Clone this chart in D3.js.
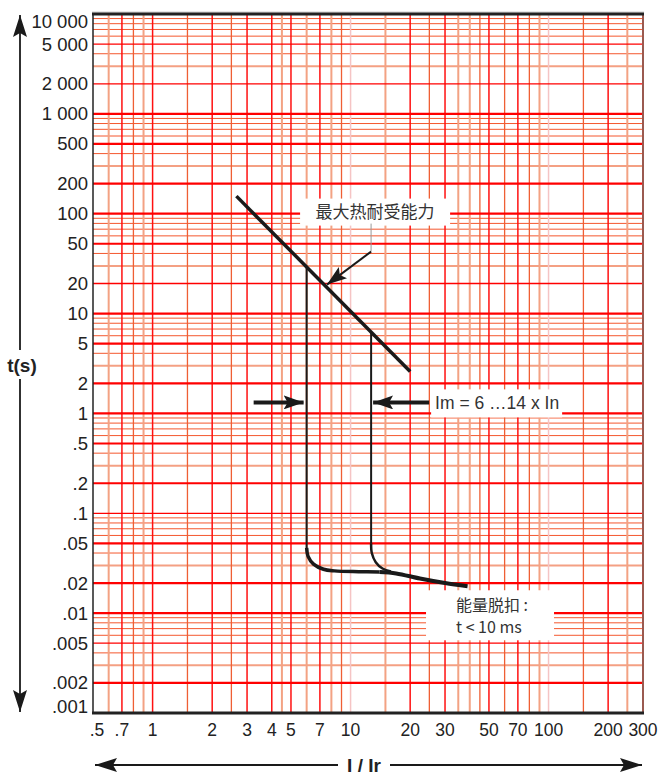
<!DOCTYPE html>
<html>
<head>
<meta charset="utf-8">
<script src="https://cdn.jsdelivr.net/npm/d3@7"></script>
<style>
body { margin: 0; background: #fff; }
text { font-family: "Liberation Sans", Arial, sans-serif; fill: #222; }
.cjk { font-family: "Noto Sans CJK SC", sans-serif; fill: #333; }
</style>
</head>
<body>
<svg id="chart" width="659" height="773"></svg>
<script>
// axis ticks
const xTicks = [0.5, 0.7, 1, 2, 3, 4, 5, 7, 10, 20, 30, 50, 70, 100, 200, 300];
const xTickLabels = [".5", ".7", "1", "2", "3", "4", "5", "7", "10", "20", "30", "50", "70", "100", "200", "300"];
const yTicks = [10000, 5000, 2000, 1000, 500, 200, 100, 50, 20, 10, 5, 2, 1, 0.5, 0.2, 0.1, 0.05, 0.02, 0.01, 0.005, 0.002, 0.001];
const yTickLabels = ["10 000", "5 000", "2 000", "1 000", "500", "200", "100", "50", "20", "10", "5", "2", "1",
                     ".5", ".2", ".1", ".05", ".02", ".01", ".005", ".002", ".001"];

// grid lines of the log paper
const xGridRed = [0.7, 1, 2, 3, 4, 5, 7, 20, 30, 50, 70, 200];
const xGridOrange = [0.8, 1.5, 2.5, 9, 25, 45, 60, 80, 150];
const xGridSalmon = [0.6, 0.9, 4.5, 6, 8, 15, 35, 40, 90, 250];
const xGridPink = [10, 100];
const yDecades = [0.001, 0.01, 0.1, 1, 10, 100, 1000];
const yGridRed = [1, 2, 5];
const yGridSalmon = [3];
const yGridOrange = [4, 6, 7, 8, 9];
const yGridThin = [5000, 2000, 20, 0.1, 0.005];

// curves, [I/Ir, t(s)]
const thermalLine = [[2.65, 150], [20, 2.63]];
const tripLow = [[6, 29], [6, 0.045]];
const tripHigh = [[12.7, 6.5], [12.7, 0.05]];
const kneeLow = [[6, 0.045], [6.1, 0.037], [6.5, 0.031], [7.3, 0.0275], [8.3, 0.0265], [11, 0.026], [14, 0.0258]];
const kneeHigh = [[12.7, 0.05], [12.8, 0.04], [13.4, 0.0324], [14.5, 0.028], [16, 0.0262]];
const tail = [[14, 0.0258], [17, 0.025], [22.4, 0.0222], [30, 0.02], [39, 0.0186]];

// annotations
const thermalNote = "最大热耐受能力";
const imNote = "Im = 6 …14 x In";
const energyNote = ["能量脱扣 :", "t < 10 ms"];

const svg = d3.select("#chart");
const x = d3.scaleLog().domain([0.5, 300]).range([93, 643]);
const y = d3.scaleLog().domain([0.001, 10000]).range([713, 14]);

const defs = svg.append("defs");
defs.append("marker").attr("id", "axisArrow")
    .attr("viewBox", "0 0 22 14").attr("refX", 22).attr("refY", 7)
    .attr("markerWidth", 22).attr("markerHeight", 14)
    .attr("markerUnits", "userSpaceOnUse").attr("orient", "auto-start-reverse")
    .append("path").attr("d", "M0,0 L22,7 L0,14 L4,7 Z").attr("fill", "#1a1a1a");
defs.append("marker").attr("id", "noteArrow")
    .attr("viewBox", "0 0 20 14").attr("refX", 20).attr("refY", 7)
    .attr("markerWidth", 20).attr("markerHeight", 14)
    .attr("markerUnits", "userSpaceOnUse").attr("orient", "auto")
    .append("path").attr("d", "M0,0 L20,7 L0,14 L4,7 Z").attr("fill", "#1a1a1a");

// grid
let grid = svg.append("g");
function vLines(vals, color, w) {
    grid.selectAll(null).data(vals).enter().append("line")
        .attr("x1", d => x(d)).attr("x2", d => x(d))
        .attr("y1", y(10000)).attr("y2", y(0.001))
        .attr("stroke", color).attr("stroke-width", w);
}
function hLines(mults, color, w) {
    let vals = [];
    yDecades.forEach(dec => mults.forEach(m => vals.push(+(dec * m).toPrecision(3))));
    grid.selectAll(null).data(vals).enter().append("line")
        .attr("x1", x(0.5)).attr("x2", x(300))
        .attr("y1", d => y(d)).attr("y2", d => y(d))
        .attr("stroke", color)
        .attr("stroke-width", d => (w > 1.5 && yGridThin.indexOf(d) >= 0) ? 1.3 : w);
}
hLines(yGridOrange, "#f4572e", 1);
hLines(yGridSalmon, "#f4a083", 2);
vLines(xGridPink, "#f5c4c4", 1.5);
vLines(xGridSalmon, "#f3a283", 2);
vLines(xGridOrange, "#ef5f34", 1.3);
vLines(xGridRed, "#ff1010", 1.5);
hLines(yGridRed, "#ff0000", 2.2);

// frame
svg.append("line").attr("x1", x(0.5)).attr("x2", x(0.5)).attr("y1", y(10000)).attr("y2", y(0.001))
    .attr("stroke", "#222").attr("stroke-width", 1.5);
svg.append("line").attr("x1", x(300)).attr("x2", x(300)).attr("y1", y(10000)).attr("y2", y(0.001))
    .attr("stroke", "#9a5a50").attr("stroke-width", 2);
svg.append("line").attr("x1", x(0.5) - 1).attr("x2", x(300) + 1).attr("y1", y(10000) - 2).attr("y2", y(10000) - 2)
    .attr("stroke", "#ccc").attr("stroke-width", 1);
[10000, 0.001].forEach(v => {
    svg.append("line").attr("x1", x(0.5) - 1).attr("x2", x(300) + 1).attr("y1", y(v)).attr("y2", y(v))
        .attr("stroke", "#222").attr("stroke-width", 3);
});

// white label boxes
let tn = [13.3, 105];
svg.append("rect").attr("x", x(tn[0]) - 75).attr("y", y(tn[1]) - 13).attr("width", 150).attr("height", 27).attr("fill", "#fff");
let imY = y(1.29);
svg.append("rect").attr("x", x(12.7) + 60).attr("y", imY - 13).attr("width", 131).attr("height", 28).attr("fill", "#fff");
let en = [0.0102, 30];
svg.append("rect").attr("x", x(en[1]) - 19).attr("y", y(en[0]) - 22).attr("width", 128).attr("height", 50).attr("fill", "#fff");

// curves
let line = d3.line().x(d => x(d[0])).y(d => y(d[1]));
let smooth = d3.line().x(d => x(d[0])).y(d => y(d[1])).curve(d3.curveCatmullRom.alpha(0.5));
svg.append("path").attr("d", line(thermalLine)).attr("fill", "none").attr("stroke", "#1a1a1a").attr("stroke-width", 3.5);
svg.append("path").attr("d", line(tripLow)).attr("fill", "none").attr("stroke", "#1a1a1a").attr("stroke-width", 2);
svg.append("path").attr("d", line(tripHigh)).attr("fill", "none").attr("stroke", "#1a1a1a").attr("stroke-width", 2);
svg.append("path").attr("d", smooth(kneeLow)).attr("fill", "none").attr("stroke", "#1a1a1a").attr("stroke-width", 3.5);
svg.append("path").attr("d", smooth(kneeHigh)).attr("fill", "none").attr("stroke", "#1a1a1a").attr("stroke-width", 2.5);
svg.append("path").attr("d", smooth(tail)).attr("fill", "none").attr("stroke", "#1a1a1a").attr("stroke-width", 4);

// thermal annotation
svg.append("text").attr("class", "cjk").attr("x", x(tn[0])).attr("y", y(tn[1])).attr("dy", "0.35em")
    .attr("text-anchor", "middle").style("font-size", "17px").text(thermalNote);
let tip = [7.6, 19.5];
svg.append("line").attr("x1", x(tn[0]) - 4).attr("x2", x(tn[0]) - 4)
    .attr("y1", y(tn[1]) + 12).attr("y2", y(tn[1]) + 40).attr("stroke", "#999").attr("stroke-width", 1);
svg.append("line").attr("x1", x(tn[0]) - 4).attr("y1", y(tn[1]) + 40)
    .attr("x2", x(tip[0])).attr("y2", y(tip[1]))
    .attr("stroke", "#1a1a1a").attr("stroke-width", 2).attr("marker-end", "url(#noteArrow)");

// Im annotation
svg.append("line").attr("x1", x(6) - 53).attr("x2", x(6) - 3).attr("y1", imY).attr("y2", imY)
    .attr("stroke", "#1a1a1a").attr("stroke-width", 4).attr("marker-end", "url(#noteArrow)");
svg.append("line").attr("x1", x(12.7) + 58).attr("x2", x(12.7) + 2).attr("y1", imY).attr("y2", imY)
    .attr("stroke", "#1a1a1a").attr("stroke-width", 4).attr("marker-end", "url(#noteArrow)");
svg.append("text").attr("x", x(12.7) + 64).attr("y", imY).attr("dy", "0.35em")
    .style("font-size", "17.5px").style("fill", "#333").text(imNote);

// energy annotation
svg.selectAll(".energy").data(energyNote).enter().append("text").attr("class", "cjk energy")
    .attr("x", x(en[1]) + 11).attr("y", (d, i) => y(en[0]) - 7 + i * 22).attr("dy", "0.35em")
    .style("font-size", "16px").text(d => d);

// tick labels
svg.selectAll(".ylab").data(yTicks).enter().append("text").attr("class", "ylab")
    .attr("x", 88).attr("y", (d, i) => y(d) + (i === 0 ? 8 : (i === yTicks.length - 1 ? -6 : 0)))
    .attr("dy", "0.35em").attr("text-anchor", "end").style("font-size", "18.5px")
    .text((d, i) => yTickLabels[i]);
svg.selectAll(".xlab").data(xTicks).enter().append("text").attr("class", "xlab")
    .attr("x", (d, i) => x(d) + (i === 0 ? 4 : (i === xTicks.length - 1 ? 0 : 0)))
    .attr("y", 736).attr("text-anchor", "middle").style("font-size", "17.5px")
    .text((d, i) => xTickLabels[i]);

// vertical axis arrow with label gap
svg.append("line").attr("x1", 20).attr("x2", 20).attr("y1", 350).attr("y2", 15)
    .attr("stroke", "#1a1a1a").attr("stroke-width", 1.8).attr("marker-end", "url(#axisArrow)");
svg.append("line").attr("x1", 20).attr("x2", 20).attr("y1", 379).attr("y2", 712)
    .attr("stroke", "#1a1a1a").attr("stroke-width", 1.8).attr("marker-end", "url(#axisArrow)");
svg.append("text").attr("x", 22).attr("y", 365).attr("dy", "0.35em").attr("text-anchor", "middle")
    .style("font-size", "19px").style("font-weight", "bold").text("t(s)");

// horizontal axis arrow with label gap
svg.append("line").attr("x1", 338).attr("x2", 95).attr("y1", 765).attr("y2", 765)
    .attr("stroke", "#1a1a1a").attr("stroke-width", 1.8).attr("marker-end", "url(#axisArrow)");
svg.append("line").attr("x1", 390).attr("x2", 642).attr("y1", 765).attr("y2", 765)
    .attr("stroke", "#1a1a1a").attr("stroke-width", 1.8).attr("marker-end", "url(#axisArrow)");
svg.append("text").attr("x", 364).attr("y", 765).attr("dy", "0.36em").attr("text-anchor", "middle")
    .style("font-size", "19px").style("font-weight", "bold").text("I / Ir");
</script>
</body>
</html>
